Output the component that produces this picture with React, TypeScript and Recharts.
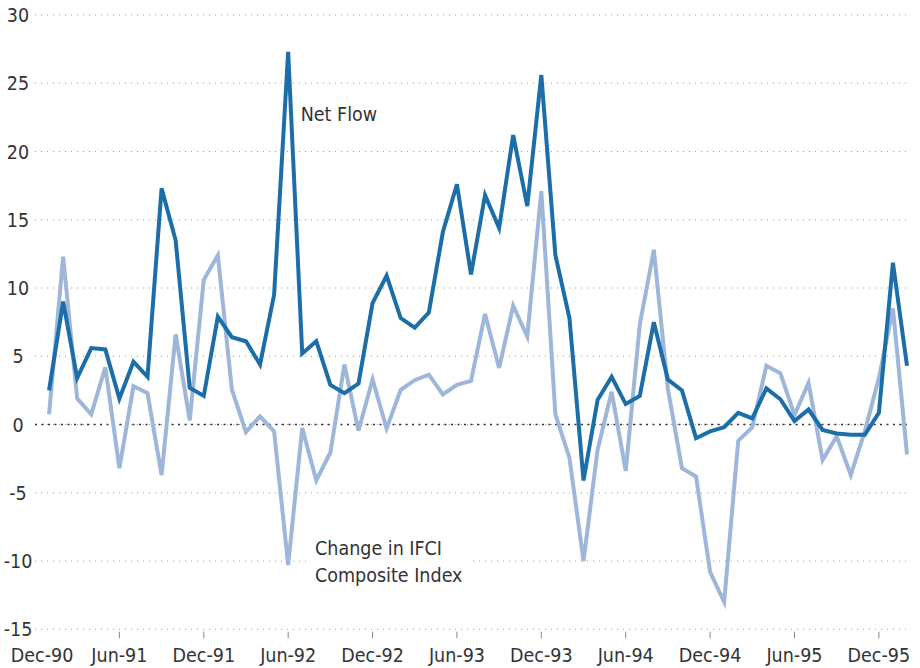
import React from "react";
import { LineChart, Line, XAxis, YAxis, CartesianGrid, ReferenceLine } from "recharts";

const months: number[] = Array.from({ length: 62 }, (_, i) => i + 1);

const netFlow: number[] = [
  2.5, 9.0, 3.4, 5.6, 5.5, 1.9, 4.6, 3.5, 17.3, 13.5, 2.7, 2.1,
  7.9, 6.4, 6.1, 4.4, 9.5, 27.3, 5.2, 6.1, 2.9, 2.3, 3.0, 8.9,
  10.9, 7.8, 7.1, 8.2, 14.1, 17.6, 11.0, 16.8, 14.4, 21.2, 16.0, 25.6,
  12.4, 7.8, -4.1, 1.8, 3.5, 1.5, 2.1, 7.5, 3.3, 2.5, -1.0, -0.5,
  -0.2, 0.85, 0.45, 2.65, 1.85, 0.25, 1.1, -0.4, -0.65, -0.75, -0.75, 0.85,
  11.85, 4.3,
];

const ifciChange: number[] = [
  0.75, 12.3, 1.9, 0.75, 4.2, -3.2, 2.8, 2.3, -3.7, 6.6, 0.3, 10.6,
  12.4, 2.55, -0.55, 0.6, -0.5, -10.3, -0.25, -4.1, -2.05, 4.4, -0.45, 3.3,
  -0.3, 2.55, 3.25, 3.65, 2.2, 2.9, 3.2, 8.1, 4.15, 8.7, 6.45, 17.1,
  0.75, -2.45, -10.0, -1.85, 2.4, -3.4, 7.3, 12.8, 2.6, -3.2, -3.8, -10.8,
  -13.0, -1.2, -0.2, 4.3, 3.75, 0.7, 3.05, -2.6, -0.85, -3.7, -0.5, 3.4,
  8.5, -2.2,
];

const xTicks: number[] = [0, 6, 12, 18, 24, 30, 36, 42, 48, 54, 60];
const xTickLabels: string[] = [
  "Dec-90", "Jun-91", "Dec-91", "Jun-92", "Dec-92", "Jun-93",
  "Dec-93", "Jun-94", "Dec-94", "Jun-95", "Dec-95",
];
const yTicks: number[] = [-15, -10, -5, 0, 5, 10, 15, 20, 25, 30];

const data = months.map((m, i) => ({ m, net: netFlow[i], ifci: ifciChange[i] }));

const FONT = "'DejaVu Sans Condensed', 'Liberation Sans Narrow', 'DejaVu Sans', sans-serif";
const TEXT = "#333";
const DARK = "#1b6ea8";
const LIGHT = "#9db6d9";

const XTick = (props: any) => {
  const { x, y, payload } = props;
  const idx = xTicks.indexOf(payload.value);
  const label = idx >= 0 ? xTickLabels[idx] : "";
  const first = payload.value === 0;
  return (
    <g>
      {!first && <line x1={x} x2={x} y1={y + 2.4} y2={y + 9} stroke="#888" strokeWidth={1} />}
      <text
        x={first ? x + 7 : x}
        y={y + 32.7}
        textAnchor="middle"
        fontFamily={FONT}
        fontStretch="condensed"
        fontSize={19.5}
        fill={TEXT}
      >
        {label}
      </text>
    </g>
  );
};

const YTick = (props: any) => {
  const { y, payload } = props;
  return (
    <text
      x={18}
      y={y}
      dy="0.36em"
      textAnchor="middle"
      fontFamily={FONT}
      fontStretch="condensed"
      fontSize={19.5}
      fill={TEXT}
    >
      {payload.value}
    </text>
  );
};

export default function App() {
  return (
    <div style={{ position: "absolute", left: 0, top: 0, width: 920, height: 668 }}>
      <LineChart
        width={920}
        height={668}
        data={data}
        margin={{ top: 15, right: 13, bottom: 8.7, left: 0 }}
      >
        <CartesianGrid
          horizontal={true}
          vertical={false}
          stroke="#9a9a9a"
          strokeDasharray="1 5"
          strokeWidth={1}
        />
        <XAxis
          dataKey="m"
          type="number"
          domain={[0, 62]}
          ticks={xTicks}
          interval={0}
          axisLine={false}
          tickLine={false}
          tickSize={0}
          tickMargin={0}
          height={30}
          tick={<XTick />}
        />
        <YAxis
          type="number"
          domain={[-15, 30]}
          ticks={yTicks}
          interval={0}
          axisLine={false}
          tickLine={false}
          width={35}
          tick={<YTick />}
        />
        <ReferenceLine y={0} stroke="#333" strokeDasharray="2 4.5" strokeWidth={1.5} />
        <Line
          type="linear"
          dataKey="ifci"
          stroke={LIGHT}
          strokeWidth={4}
          dot={false}
          activeDot={false}
          isAnimationActive={false}
        />
        <Line
          type="linear"
          dataKey="net"
          stroke={DARK}
          strokeWidth={4}
          dot={false}
          activeDot={false}
          isAnimationActive={false}
        />
      </LineChart>
      <svg
        width={920}
        height={668}
        style={{ position: "absolute", left: 0, top: 0, pointerEvents: "none" }}
      >
        <text x={300.7} y={120.7} fontFamily={FONT} fontStretch="condensed" fontSize={19.5} fill={TEXT}>
          Net Flow
        </text>
        <rect x={306} y={536} width={167} height={54} fill="#fff" />
        <text x={315} y={555} fontFamily={FONT} fontStretch="condensed" fontSize={19.5} fill={TEXT}>
          Change in IFCI
        </text>
        <text x={315} y={582} fontFamily={FONT} fontStretch="condensed" fontSize={19.5} fill={TEXT}>
          Composite Index
        </text>
      </svg>
    </div>
  );
}
